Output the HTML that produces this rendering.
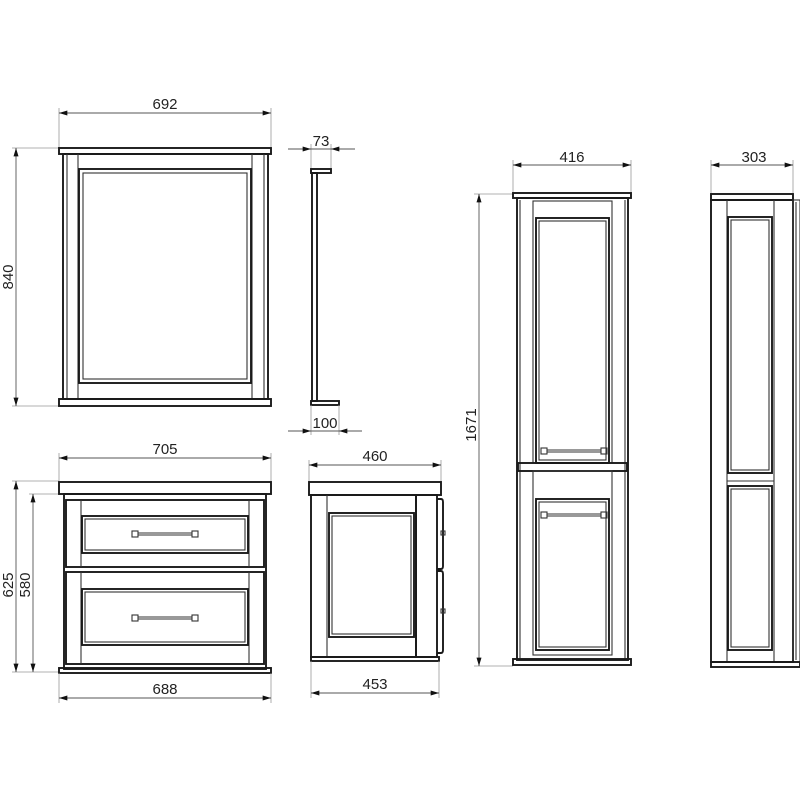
<!DOCTYPE html>
<html><head><meta charset="utf-8"><style>
html,body{margin:0;padding:0;background:#fff;width:800px;height:800px;overflow:hidden}
svg{display:block}
.o{fill:none;stroke:#1a1a1a;stroke-width:1.9}
.t{fill:none;stroke:#333;stroke-width:1.1}
.d{fill:none;stroke:#999;stroke-width:0.8}
.dl{fill:none;stroke:#555;stroke-width:0.9}
text{font-family:"Liberation Sans",sans-serif;font-size:15px;fill:#222}
</style></head><body>
<svg width="800" height="800" viewBox="0 0 800 800" xmlns="http://www.w3.org/2000/svg">
<defs>
<marker id="a" viewBox="0 0 10 6" refX="10" refY="3" markerWidth="14" markerHeight="5" orient="auto-start-reverse" markerUnits="userSpaceOnUse"><path d="M0,0 L10,3 L0,6z" fill="#111"/></marker>
<g id="h"><rect x="0" y="-3" width="6" height="6" class="t" stroke-width="1.4"/><line x1="6" y1="-1" x2="60" y2="-1" class="t"/><line x1="6" y1="1" x2="60" y2="1" class="t"/><rect x="60" y="-3" width="6" height="6" class="t" stroke-width="1.4"/></g>
</defs>

<!-- MIRROR FRONT -->
<line x1="59" y1="148" x2="59" y2="108" class="d"/><line x1="271" y1="148" x2="271" y2="108" class="d"/>
<line x1="59" y1="113" x2="271" y2="113" class="dl" marker-start="url(#a)" marker-end="url(#a)"/>
<text x="165" y="109" text-anchor="middle">692</text>
<line x1="59" y1="148" x2="12" y2="148" class="d"/><line x1="59" y1="406" x2="12" y2="406" class="d"/>
<line x1="16" y1="148" x2="16" y2="406" class="dl" marker-start="url(#a)" marker-end="url(#a)"/>
<text transform="translate(13,277) rotate(-90)" text-anchor="middle">840</text>
<rect x="59" y="148" width="212" height="6" class="o"/>
<rect x="63" y="154" width="205" height="245" class="o"/>
<line x1="67" y1="154" x2="67" y2="399" class="t"/><line x1="264" y1="154" x2="264" y2="399" class="t"/>
<line x1="78" y1="154" x2="78" y2="399" class="t"/><line x1="252" y1="154" x2="252" y2="399" class="t"/>
<rect x="79" y="169" width="172" height="214" class="o"/>
<rect x="83" y="173" width="164" height="206" class="t"/>
<rect x="59" y="399" width="212" height="7" class="o"/>

<!-- MIRROR SIDE -->
<line x1="311" y1="169" x2="311" y2="144" class="d"/><line x1="331" y1="169" x2="331" y2="144" class="d"/>
<line x1="288" y1="149" x2="311" y2="149" class="dl" marker-end="url(#a)"/><line x1="355" y1="149" x2="331" y2="149" class="dl" marker-end="url(#a)"/>
<line x1="311" y1="149" x2="331" y2="149" class="dl"/>
<text x="321" y="146" text-anchor="middle">73</text>
<rect x="311" y="169" width="20" height="4" class="o"/>
<rect x="312" y="173" width="5" height="228" class="o"/>
<rect x="311" y="401" width="28" height="4" class="o"/>
<line x1="311" y1="405" x2="311" y2="435" class="d"/><line x1="339" y1="405" x2="339" y2="435" class="d"/>
<line x1="288" y1="431" x2="311" y2="431" class="dl" marker-end="url(#a)"/><line x1="362" y1="431" x2="339" y2="431" class="dl" marker-end="url(#a)"/>
<line x1="311" y1="431" x2="339" y2="431" class="dl"/>
<text x="325" y="428" text-anchor="middle">100</text>

<!-- VANITY FRONT -->
<line x1="59" y1="481" x2="59" y2="453" class="d"/><line x1="271" y1="481" x2="271" y2="453" class="d"/>
<line x1="59" y1="458" x2="271" y2="458" class="dl" marker-start="url(#a)" marker-end="url(#a)"/>
<text x="165" y="454" text-anchor="middle">705</text>
<line x1="59" y1="481" x2="12" y2="481" class="d"/><line x1="64" y1="494" x2="29" y2="494" class="d"/><line x1="59" y1="672" x2="12" y2="672" class="d"/>
<line x1="16" y1="481" x2="16" y2="672" class="dl" marker-start="url(#a)" marker-end="url(#a)"/>
<line x1="33" y1="494" x2="33" y2="672" class="dl" marker-start="url(#a)" marker-end="url(#a)"/>
<text transform="translate(13,585) rotate(-90)" text-anchor="middle">625</text>
<text transform="translate(30,585) rotate(-90)" text-anchor="middle">580</text>
<rect x="59" y="482" width="212" height="12" class="o"/>
<rect x="64" y="494" width="202" height="175" class="o"/>
<rect x="66" y="500" width="198" height="67" class="o"/>
<line x1="81" y1="500" x2="81" y2="567" class="t"/><line x1="249" y1="500" x2="249" y2="567" class="t"/>
<rect x="82" y="516" width="166" height="37" class="o"/><rect x="85" y="519" width="160" height="31" class="t"/>
<use href="#h" x="132" y="534"/>
<rect x="66" y="572" width="198" height="92" class="o"/>
<line x1="81" y1="572" x2="81" y2="664" class="t"/><line x1="249" y1="572" x2="249" y2="664" class="t"/>
<rect x="82" y="589" width="166" height="56" class="o"/><rect x="85" y="592" width="160" height="50" class="t"/>
<use href="#h" x="132" y="618"/>
<rect x="59" y="668" width="212" height="5" class="o"/>
<line x1="59" y1="673" x2="59" y2="703" class="d"/><line x1="271" y1="673" x2="271" y2="703" class="d"/>
<line x1="59" y1="698" x2="271" y2="698" class="dl" marker-start="url(#a)" marker-end="url(#a)"/>
<text x="165" y="694" text-anchor="middle">688</text>

<!-- VANITY SIDE -->
<line x1="309" y1="482" x2="309" y2="460" class="d"/><line x1="441" y1="482" x2="441" y2="460" class="d"/>
<line x1="309" y1="465" x2="441" y2="465" class="dl" marker-start="url(#a)" marker-end="url(#a)"/>
<text x="375" y="461" text-anchor="middle">460</text>
<rect x="309" y="482" width="132" height="13" class="o"/>
<rect x="311" y="495" width="105" height="162" class="o"/>
<line x1="327" y1="495" x2="327" y2="657" class="t"/>
<rect x="416" y="495" width="21" height="162" class="o"/>
<rect x="329" y="513" width="85" height="124" class="o"/><rect x="332" y="516" width="79" height="118" class="t"/>
<path d="M437,499 h4 q2,0 2,3 v64 q0,3 -2,3 h-4" class="o"/>
<path d="M437,571 h4 q2,0 2,3 v76 q0,3 -2,3 h-4" class="o"/>
<rect x="441" y="531" width="4" height="4" class="t"/><rect x="441" y="609" width="4" height="4" class="t"/>
<rect x="311" y="657" width="128" height="4" class="o"/>
<line x1="311" y1="661" x2="311" y2="698" class="d"/><line x1="439" y1="661" x2="439" y2="698" class="d"/>
<line x1="311" y1="693" x2="439" y2="693" class="dl" marker-start="url(#a)" marker-end="url(#a)"/>
<text x="375" y="689" text-anchor="middle">453</text>

<!-- TALL FRONT -->
<line x1="513" y1="193" x2="513" y2="160" class="d"/><line x1="631" y1="193" x2="631" y2="160" class="d"/>
<line x1="513" y1="165" x2="631" y2="165" class="dl" marker-start="url(#a)" marker-end="url(#a)"/>
<text x="572" y="162" text-anchor="middle">416</text>
<line x1="513" y1="194" x2="474" y2="194" class="d"/><line x1="513" y1="666" x2="474" y2="666" class="d"/>
<line x1="479" y1="194" x2="479" y2="666" class="dl" marker-start="url(#a)" marker-end="url(#a)"/>
<text transform="translate(476,425) rotate(-90)" text-anchor="middle">1671</text>
<rect x="513" y="193" width="118" height="5" class="o"/>
<rect x="517" y="198" width="111" height="462" class="o"/>
<line x1="520" y1="200" x2="520" y2="658" class="t"/><line x1="625" y1="200" x2="625" y2="658" class="t"/>
<rect x="533" y="201" width="79" height="262" class="t"/>
<rect x="536" y="218" width="73" height="245" class="o"/><rect x="539" y="221" width="67" height="239" class="t"/>
<use href="#h" x="541" y="451"/>
<rect x="518" y="463" width="109" height="8" class="o"/>
<rect x="533" y="471" width="79" height="184" class="t"/>
<rect x="536" y="499" width="73" height="151" class="o"/><rect x="539" y="502" width="67" height="145" class="t"/>
<use href="#h" x="541" y="515"/>
<rect x="513" y="659" width="118" height="6" class="o"/>

<!-- TALL SIDE -->
<line x1="711" y1="193" x2="711" y2="160" class="d"/><line x1="793" y1="193" x2="793" y2="160" class="d"/>
<line x1="711" y1="165" x2="793" y2="165" class="dl" marker-start="url(#a)" marker-end="url(#a)"/>
<text x="754" y="162" text-anchor="middle">303</text>
<rect x="711" y="194" width="82" height="6" class="o"/>
<rect x="711" y="200" width="82" height="462" class="o"/>
<line x1="727" y1="200" x2="727" y2="662" class="t"/><line x1="774" y1="200" x2="774" y2="662" class="t"/>
<rect x="728" y="217" width="44" height="256" class="o"/><rect x="731" y="220" width="38" height="250" class="t"/>
<line x1="727" y1="481" x2="774" y2="481" class="t"/>
<rect x="728" y="486" width="44" height="164" class="o"/><rect x="731" y="489" width="38" height="158" class="t"/>
<rect x="793" y="200" width="7" height="462" class="t"/>
<line x1="796" y1="202" x2="796" y2="660" class="t"/>
<rect x="711" y="662" width="89" height="5" class="o"/>
</svg>
</body></html>
